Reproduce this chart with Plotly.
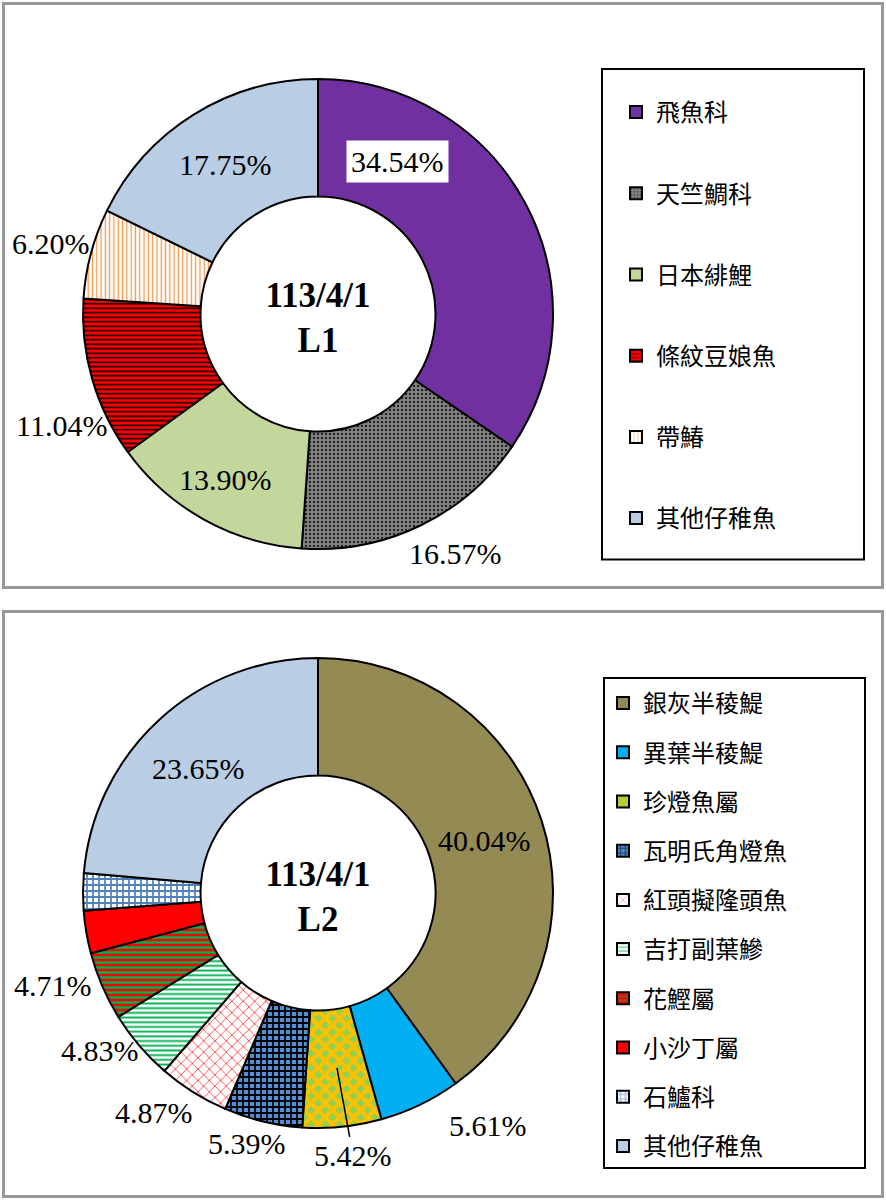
import plotly.graph_objects as go

W, H = 886, 1200

# ---------------- data ----------------
l1_labels = ["飛魚科", "天竺鯛科", "日本緋鯉", "條紋豆娘魚", "帶鰆", "其他仔稚魚"]
l1_values = [34.54, 16.57, 13.90, 11.04, 6.20, 17.75]

l2_labels = ["銀灰半稜鯷", "異葉半稜鯷", "珍燈魚屬", "瓦明氏角燈魚", "紅頭擬隆頭魚",
             "吉打副葉鰺", "花鰹屬", "小沙丁屬", "石鱸科", "其他仔稚魚"]
l2_values = [40.04, 5.61, 5.42, 5.39, 4.87, 4.83, 4.71, 2.93, 2.55, 23.65]
l2_shown = [True, True, True, True, True, True, True, False, False, True]

center_titles = ["113/4/1<br>L1", "113/4/1<br>L2"]

# ---------------- styles ----------------
l1_colors = ["#7030A0", "#7F7F7F", "#C3D69B", "#FF0000", "#FFFFFF", "#B9CDE5"]
l1_shape = ["", ".", "", "-", "|", ""]
l1_fg = ["#7030A0", "#000000", "#C3D69B", "#000000", "#F79646", "#B9CDE5"]
l1_size = [6, 4, 6, 4.5, 4.3, 6]
l1_sol = [0.3, 0.2, 0.3, 0.33, 0.3, 0.3]

l2_colors = ["#948A54", "#00B0F0", "#92D050", "#558ED5", "#FFFFFF",
             "#FFFFFF", "#FF0000", "#FF0000", "#FFFFFF", "#B9CDE5"]
l2_shape = ["", "", "x", "+", "x", "-", "-", "", "+", ""]
l2_fg = ["#948A54", "#00B0F0", "#FFC000", "#000000", "#FF3B3B",
         "#00B050", "#00B050", "#FF0000", "#4F81BD", "#B9CDE5"]
l2_size = [6, 6, 10, 6, 8, 4.7, 5, 6, 6, 6]
l2_sol = [0.3, 0.3, 0.62, 0.5, 0.2, 0.4, 0.5, 0.3, 0.5, 0.3]

# label positions (pixel centres in the page)
l1_label_pos = [(397, 161), (455, 553), (225, 479), (61, 425), (51, 243), (225, 165)]
l2_label_pos = [(484, 840), (488, 1125), (353, 1155), (247, 1143), (154, 1112),
                (100, 1050), (53, 985), None, None, (198, 768)]


def px(x):
    return x / W


def py(y):
    return 1 - y / H


fig = go.Figure()

pies = [
    (l1_labels, l1_values, l1_colors, l1_shape, l1_fg, l1_size, l1_sol, (549, 79), center_titles[0], "legend"),
    (l2_labels, l2_values, l2_colors, l2_shape, l2_fg, l2_size, l2_sol, (1128, 658), center_titles[1], "legend2"),
]

for labels, values, colors, shape, fg, size, sol, (yb, yt), title, leg in pies:
    fig.add_trace(go.Pie(
        labels=labels, values=values, sort=False, direction="clockwise", rotation=0,
        hole=0.5, textinfo="none", hoverinfo="label+percent", showlegend=False,
        domain=dict(x=[px(83), px(553)], y=[py(yb), py(yt)]),
        marker=dict(colors=colors, line=dict(color="#000000", width=2),
                    pattern=dict(shape=shape, fgcolor=fg, bgcolor=colors,
                                 size=size, solidity=sol)),
        title=dict(text="<b>" + title + "</b>", position="middle center",
                   font=dict(family="Liberation Serif", size=35, color="#000000")),
    ))
    # legend entries (one per slice, same fill as the slice)
    for i, lab in enumerate(labels):
        fig.add_trace(go.Bar(
            x=[None], y=[None], name=lab, legend=leg, legendgroup=f"{leg}_{i}",
            showlegend=True, hoverinfo="skip",
            marker=dict(color=colors[i], line=dict(color="#000000", width=2),
                        pattern=dict(shape=shape[i], fgcolor=fg[i], bgcolor=colors[i],
                                     size=size[i], solidity=sol[i])),
        ))

annotations = []
lab_font = dict(family="Liberation Serif", size=30, color="#000000")
for v, pos in zip(l1_values, l1_label_pos):
    a = dict(text=f"{v:.2f}%", x=px(pos[0]), y=py(pos[1]), xref="paper", yref="paper",
             showarrow=False, font=lab_font, xanchor="center", yanchor="middle")
    if v == max(l1_values):
        a.update(bgcolor="#FFFFFF", borderpad=4)
    annotations.append(a)

for v, pos, shown in zip(l2_values, l2_label_pos, l2_shown):
    if not shown:
        continue
    a = dict(text=f"{v:.2f}%", x=px(pos[0]), y=py(pos[1]), xref="paper", yref="paper",
             showarrow=False, font=lab_font, xanchor="center", yanchor="middle")
    if pos == (353, 1155):
        a.update(x=px(337), y=py(1068), showarrow=True, arrowhead=0, arrowwidth=1.5,
                 arrowcolor="#000000", ax=16, ay=87, standoff=0)
    annotations.append(a)

shapes = [
    dict(type="rect", xref="paper", yref="paper", x0=px(3.5), x1=px(882.5), y0=py(3.5), y1=py(587.5),
         line=dict(color="#999999", width=3)),
    dict(type="rect", xref="paper", yref="paper", x0=px(3.5), x1=px(882.5), y0=py(611.5), y1=py(1196.5),
         line=dict(color="#999999", width=3)),
    dict(type="rect", xref="paper", yref="paper", x0=px(602), x1=px(864), y0=py(69), y1=py(559.5),
         line=dict(color="#000000", width=2)),
    dict(type="rect", xref="paper", yref="paper", x0=px(604), x1=px(865), y0=py(678), y1=py(1168),
         line=dict(color="#000000", width=2)),
]

leg_font = dict(family="Noto Sans CJK TC", size=24, color="#000000")
fig.update_layout(
    width=W, height=H, margin=dict(l=0, r=0, t=0, b=0),
    paper_bgcolor="#FFFFFF", plot_bgcolor="rgba(0,0,0,0)",
    annotations=annotations, shapes=shapes,
    xaxis=dict(visible=False, domain=[0, 0.01]),
    yaxis=dict(visible=False, domain=[0, 0.01]),
    legend=dict(x=px(616), y=py(90), xanchor="left", yanchor="top", font=leg_font,
                traceorder="grouped", tracegroupgap=47, bgcolor="rgba(0,0,0,0)", borderwidth=0),
    legend2=dict(x=px(603), y=py(681), xanchor="left", yanchor="top", font=leg_font,
                 traceorder="grouped", tracegroupgap=15, bgcolor="rgba(0,0,0,0)", borderwidth=0),
)

fig.write_html("out.html")
